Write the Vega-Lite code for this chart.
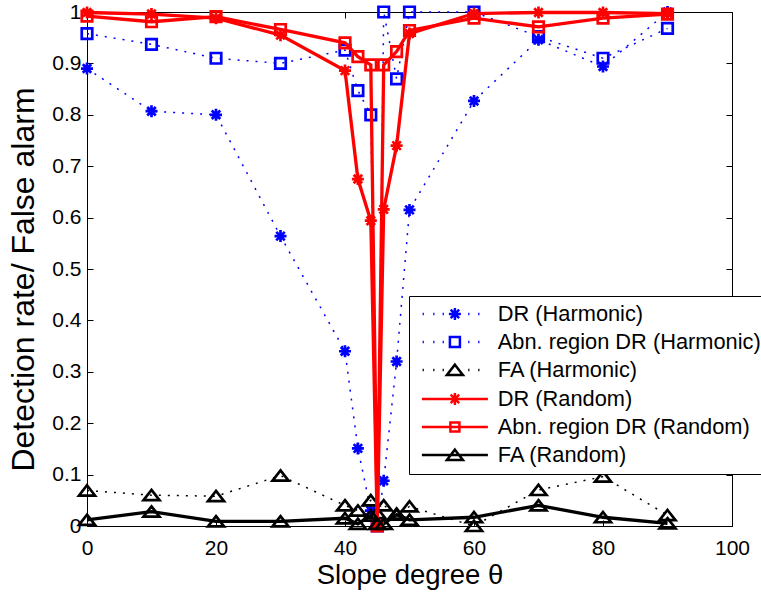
{
  "$schema": "https://vega.github.io/schema/vega-lite/v6.json",
  "width": 645,
  "height": 514,
  "autosize": {"type": "none"},
  "padding": {"left": 87, "top": 12, "right": 29, "bottom": 71},
  "background": "white",
  "config": {
    "view": {"stroke": "black", "strokeWidth": 1},
    "font": "Liberation Sans",
    "axis": {
      "labelFont": "Liberation Sans",
      "titleFont": "Liberation Sans",
      "labelColor": "black",
      "titleColor": "black",
      "tickColor": "black",
      "tickWidth": 1,
      "domain": false,
      "grid": false,
      "labelFontSize": 21,
      "titleFontWeight": "normal",
      "labelFlush": false,
      "labelOverlap": false
    }
  },
  "data": {
    "values": [
      {"series": "DR (Harmonic)", "slope": 0, "rate": 0.89},
      {"series": "DR (Harmonic)", "slope": 10, "rate": 0.807},
      {"series": "DR (Harmonic)", "slope": 20, "rate": 0.8},
      {"series": "DR (Harmonic)", "slope": 30, "rate": 0.564},
      {"series": "DR (Harmonic)", "slope": 40, "rate": 0.34},
      {"series": "DR (Harmonic)", "slope": 42, "rate": 0.151},
      {"series": "DR (Harmonic)", "slope": 44, "rate": 0.03},
      {"series": "DR (Harmonic)", "slope": 45, "rate": 0.0},
      {"series": "DR (Harmonic)", "slope": 46, "rate": 0.088},
      {"series": "DR (Harmonic)", "slope": 48, "rate": 0.32},
      {"series": "DR (Harmonic)", "slope": 50, "rate": 0.615},
      {"series": "DR (Harmonic)", "slope": 60, "rate": 0.827},
      {"series": "DR (Harmonic)", "slope": 70, "rate": 0.946},
      {"series": "DR (Harmonic)", "slope": 80, "rate": 0.894},
      {"series": "DR (Harmonic)", "slope": 90, "rate": 1.0},

      {"series": "Abn. region DR (Harmonic)", "slope": 0, "rate": 0.958},
      {"series": "Abn. region DR (Harmonic)", "slope": 10, "rate": 0.937},
      {"series": "Abn. region DR (Harmonic)", "slope": 20, "rate": 0.91},
      {"series": "Abn. region DR (Harmonic)", "slope": 30, "rate": 0.9},
      {"series": "Abn. region DR (Harmonic)", "slope": 40, "rate": 0.926},
      {"series": "Abn. region DR (Harmonic)", "slope": 42, "rate": 0.847},
      {"series": "Abn. region DR (Harmonic)", "slope": 44, "rate": 0.8},
      {"series": "Abn. region DR (Harmonic)", "slope": 45, "rate": 0.0},
      {"series": "Abn. region DR (Harmonic)", "slope": 46, "rate": 1.0},
      {"series": "Abn. region DR (Harmonic)", "slope": 48, "rate": 0.87},
      {"series": "Abn. region DR (Harmonic)", "slope": 50, "rate": 1.0},
      {"series": "Abn. region DR (Harmonic)", "slope": 60, "rate": 1.0},
      {"series": "Abn. region DR (Harmonic)", "slope": 70, "rate": 0.952},
      {"series": "Abn. region DR (Harmonic)", "slope": 80, "rate": 0.91},
      {"series": "Abn. region DR (Harmonic)", "slope": 90, "rate": 0.968},

      {"series": "FA (Harmonic)", "slope": 0, "rate": 0.069},
      {"series": "FA (Harmonic)", "slope": 10, "rate": 0.06},
      {"series": "FA (Harmonic)", "slope": 20, "rate": 0.058},
      {"series": "FA (Harmonic)", "slope": 30, "rate": 0.098},
      {"series": "FA (Harmonic)", "slope": 40, "rate": 0.04},
      {"series": "FA (Harmonic)", "slope": 42, "rate": 0.03},
      {"series": "FA (Harmonic)", "slope": 44, "rate": 0.05},
      {"series": "FA (Harmonic)", "slope": 45, "rate": 0.025},
      {"series": "FA (Harmonic)", "slope": 46, "rate": 0.04},
      {"series": "FA (Harmonic)", "slope": 48, "rate": 0.024},
      {"series": "FA (Harmonic)", "slope": 50, "rate": 0.038},
      {"series": "FA (Harmonic)", "slope": 60, "rate": 0.0},
      {"series": "FA (Harmonic)", "slope": 70, "rate": 0.07},
      {"series": "FA (Harmonic)", "slope": 80, "rate": 0.096},
      {"series": "FA (Harmonic)", "slope": 90, "rate": 0.021},

      {"series": "DR (Random)", "slope": 0, "rate": 0.999},
      {"series": "DR (Random)", "slope": 10, "rate": 0.996},
      {"series": "DR (Random)", "slope": 20, "rate": 0.988},
      {"series": "DR (Random)", "slope": 30, "rate": 0.955},
      {"series": "DR (Random)", "slope": 40, "rate": 0.886},
      {"series": "DR (Random)", "slope": 42, "rate": 0.675},
      {"series": "DR (Random)", "slope": 44, "rate": 0.594},
      {"series": "DR (Random)", "slope": 45, "rate": 0.0},
      {"series": "DR (Random)", "slope": 46, "rate": 0.616},
      {"series": "DR (Random)", "slope": 48, "rate": 0.74},
      {"series": "DR (Random)", "slope": 50, "rate": 0.958},
      {"series": "DR (Random)", "slope": 60, "rate": 0.997},
      {"series": "DR (Random)", "slope": 70, "rate": 0.999},
      {"series": "DR (Random)", "slope": 80, "rate": 0.999},
      {"series": "DR (Random)", "slope": 90, "rate": 0.997},

      {"series": "Abn. region DR (Random)", "slope": 0, "rate": 0.992},
      {"series": "Abn. region DR (Random)", "slope": 10, "rate": 0.981},
      {"series": "Abn. region DR (Random)", "slope": 20, "rate": 0.991},
      {"series": "Abn. region DR (Random)", "slope": 30, "rate": 0.966},
      {"series": "Abn. region DR (Random)", "slope": 40, "rate": 0.94},
      {"series": "Abn. region DR (Random)", "slope": 42, "rate": 0.913},
      {"series": "Abn. region DR (Random)", "slope": 44, "rate": 0.897},
      {"series": "Abn. region DR (Random)", "slope": 45, "rate": 0.0},
      {"series": "Abn. region DR (Random)", "slope": 46, "rate": 0.897},
      {"series": "Abn. region DR (Random)", "slope": 48, "rate": 0.923},
      {"series": "Abn. region DR (Random)", "slope": 50, "rate": 0.964},
      {"series": "Abn. region DR (Random)", "slope": 60, "rate": 0.988},
      {"series": "Abn. region DR (Random)", "slope": 70, "rate": 0.971},
      {"series": "Abn. region DR (Random)", "slope": 80, "rate": 0.988},
      {"series": "Abn. region DR (Random)", "slope": 90, "rate": 0.996},

      {"series": "FA (Random)", "slope": 0, "rate": 0.012},
      {"series": "FA (Random)", "slope": 10, "rate": 0.028},
      {"series": "FA (Random)", "slope": 20, "rate": 0.009},
      {"series": "FA (Random)", "slope": 30, "rate": 0.009},
      {"series": "FA (Random)", "slope": 40, "rate": 0.015},
      {"series": "FA (Random)", "slope": 42, "rate": 0.004},
      {"series": "FA (Random)", "slope": 44, "rate": 0.02},
      {"series": "FA (Random)", "slope": 45, "rate": 0.004},
      {"series": "FA (Random)", "slope": 46, "rate": 0.004},
      {"series": "FA (Random)", "slope": 48, "rate": 0.022},
      {"series": "FA (Random)", "slope": 50, "rate": 0.012},
      {"series": "FA (Random)", "slope": 60, "rate": 0.017},
      {"series": "FA (Random)", "slope": 70, "rate": 0.04},
      {"series": "FA (Random)", "slope": 80, "rate": 0.017},
      {"series": "FA (Random)", "slope": 90, "rate": 0.005}
    ]
  },
  "resolve": {
    "axis": {"x": "independent", "y": "independent"},
    "scale": {"shape": "independent", "color": "independent"}
  },
  "layer": [
    {
      "transform": [{"filter": "indexof(datum.series, 'Harmonic') >= 0"}],
      "mark": {"type": "line", "strokeWidth": 1.5, "strokeDash": [2, 7]},
      "encoding": {
        "x": {
          "field": "slope", "type": "quantitative",
          "scale": {"domain": [0, 100], "nice": false, "zero": false},
          "axis": {
            "orient": "bottom", "values": [0, 20, 40, 60, 80, 100],
            "tickSize": -6, "labelPadding": 17, "title": "Slope degree θ",
            "titleFontSize": 27.5, "titlePadding": 3
          }
        },
        "y": {
          "field": "rate", "type": "quantitative",
          "scale": {"domain": [0, 1], "nice": false},
          "axis": {
            "orient": "left", "values": [0, 0.1, 0.2, 0.3, 0.4, 0.5, 0.6, 0.7, 0.8, 0.9, 1],
            "format": ".1~f", "tickSize": -6, "labelPadding": 12,
            "title": "Detection rate/ False alarm", "titleFontSize": 32,
            "titleX": -47, "titleY": 267
          }
        },
        "stroke": {
          "field": "series", "type": "nominal", "legend": null,
          "scale": {
            "domain": ["DR (Random)", "Abn. region DR (Random)", "FA (Random)", "DR (Harmonic)", "Abn. region DR (Harmonic)", "FA (Harmonic)"],
            "range": ["#ff0000", "#ff0000", "#000000", "#0000ff", "#0000ff", "#000000"]
          }
        }
      }
    },
    {
      "transform": [{"filter": "indexof(datum.series, 'Harmonic') >= 0"}],
      "mark": {"type": "point", "filled": false, "size": 100, "strokeWidth": 2.7, "opacity": 1},
      "encoding": {
        "x": {
          "field": "slope", "type": "quantitative",
          "axis": {"orient": "top", "values": [0, 20, 40, 60, 80, 100], "labels": false, "tickSize": -6, "title": null}
        },
        "y": {
          "field": "rate", "type": "quantitative",
          "axis": {"orient": "right", "values": [0, 0.1, 0.2, 0.3, 0.4, 0.5, 0.6, 0.7, 0.8, 0.9, 1], "labels": false, "tickSize": -6, "title": null}
        },
        "stroke": {"field": "series", "type": "nominal", "legend": null},
        "shape": {
          "field": "series", "type": "nominal", "legend": null,
          "scale": {
            "domain": ["DR (Harmonic)", "Abn. region DR (Harmonic)", "FA (Harmonic)"],
            "range": [
              "M-1.2,0H1.2M0,-1.2V1.2M-0.85,-0.85L0.85,0.85M-0.85,0.85L0.85,-0.85",
              "M-1.05,-1.05H1.05V1.05H-1.05Z",
              "M0,-1.05L1.6,1H-1.6Z"
            ]
          }
        }
      }
    },
    {
      "transform": [{"filter": "indexof(datum.series, 'Random') >= 0"}],
      "mark": {"type": "line", "strokeWidth": 3.3},
      "encoding": {
        "x": {"field": "slope", "type": "quantitative", "axis": null},
        "y": {"field": "rate", "type": "quantitative", "axis": null},
        "stroke": {"field": "series", "type": "nominal", "legend": null}
      }
    },
    {
      "transform": [{"filter": "indexof(datum.series, 'Random') >= 0"}],
      "mark": {"type": "point", "filled": false, "size": 100, "strokeWidth": 2.7, "opacity": 1},
      "encoding": {
        "x": {"field": "slope", "type": "quantitative", "axis": null},
        "y": {"field": "rate", "type": "quantitative", "axis": null},
        "stroke": {"field": "series", "type": "nominal", "legend": null},
        "shape": {
          "field": "series", "type": "nominal", "legend": null,
          "scale": {
            "domain": ["DR (Random)", "Abn. region DR (Random)", "FA (Random)"],
            "range": [
              "M-1.2,0H1.2M0,-1.2V1.2M-0.85,-0.85L0.85,0.85M-0.85,0.85L0.85,-0.85",
              "M-1.05,-1.05H1.05V1.05H-1.05Z",
              "M0,-1.05L1.6,1H-1.6Z"
            ]
          }
        }
      }
    },
    {
      "description": "Legend key: no rows pass the filter, so only the legend is drawn, with line-and-marker symbols.",
      "transform": [{"filter": "false"}],
      "mark": {"type": "point", "filled": false, "size": 100, "strokeWidth": 2.5, "opacity": 1},
      "encoding": {
        "x": {"field": "slope", "type": "quantitative", "axis": null},
        "y": {"field": "rate", "type": "quantitative", "axis": null},
        "color": {
          "field": "series", "type": "nominal",
          "scale": {
            "domain": ["DR (Harmonic)", "Abn. region DR (Harmonic)", "FA (Harmonic)", "DR (Random)", "Abn. region DR (Random)", "FA (Random)"],
            "range": ["#0000ff", "#0000ff", "#000000", "#ff0000", "#ff0000", "#000000"]
          },
          "legend": {
            "title": null, "orient": "none", "legendX": 322, "legendY": 284, "direction": "vertical",
            "padding": 7, "strokeColor": "black", "fillColor": "white",
            "symbolSize": 100, "symbolStrokeWidth": 2.5, "symbolOffset": 28, "labelOffset": 32,
            "rowPadding": 5, "labelFontSize": 21.8, "labelFont": "Liberation Sans", "labelColor": "black", "labelLimit": 400
          }
        },
        "shape": {
          "field": "series", "type": "nominal",
          "scale": {
            "domain": ["DR (Harmonic)", "Abn. region DR (Harmonic)", "FA (Harmonic)", "DR (Random)", "Abn. region DR (Random)", "FA (Random)"],
            "range": [
              "M-6.46,0h0.25M-4.34,0h0.25M-2.46,0h0.25M2.66,0h0.25M4.66,0h0.25M-1.2,0H1.2M0,-1.2V1.2M-0.85,-0.85L0.85,0.85M-0.85,0.85L0.85,-0.85",
              "M-6.46,0h0.25M-4.34,0h0.25M-2.46,0h0.25M2.66,0h0.25M4.66,0h0.25M-1,-1H1V1H-1Z",
              "M-6.46,0h0.25M-4.34,0h0.25M-2.46,0h0.25M2.66,0h0.25M4.66,0h0.25M0,-1.05L1.6,1H-1.6Z",
              "M-6.6,0H6.6M-1.2,0H1.2M0,-1.2V1.2M-0.85,-0.85L0.85,0.85M-0.85,0.85L0.85,-0.85",
              "M-6.6,0H6.6M-0.9,-0.9H0.9V0.9H-0.9Z",
              "M-6.6,0H6.6M0,-1.05L1.6,1H-1.6Z"
            ]
          },
          "legend": {
            "title": null, "orient": "none", "legendX": 322, "legendY": 284, "direction": "vertical",
            "padding": 7, "strokeColor": "black", "fillColor": "white",
            "symbolSize": 100, "symbolStrokeWidth": 2.5, "symbolOffset": 28, "labelOffset": 32,
            "rowPadding": 5, "labelFontSize": 21.8, "labelFont": "Liberation Sans", "labelColor": "black", "labelLimit": 400
          }
        }
      }
    }
  ]
}
